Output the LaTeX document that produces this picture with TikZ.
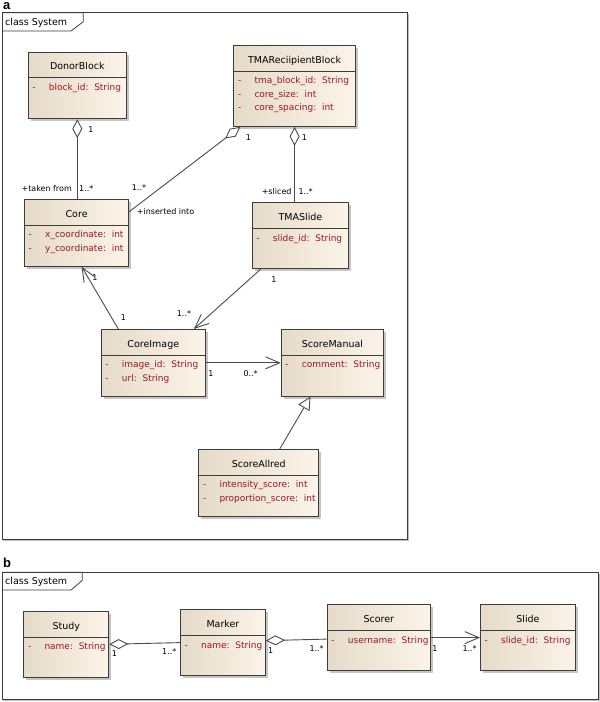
\documentclass[tikz,border=0pt]{standalone}
\usepackage{fontspec}
\newfontfamily\umlfont{DejaVu Sans}
\newfontfamily\panelfont{Liberation Sans}
\usetikzlibrary{calc,positioning,shadows,arrows.meta}

\definecolor{umlline}{RGB}{60,60,60}
\definecolor{connline}{RGB}{75,75,75}
\definecolor{umlleft}{RGB}{230,219,201}
\definecolor{umlright}{RGB}{251,244,232}
\definecolor{umlattr}{RGB}{160,20,35}

\tikzset{
	classbox/.style={draw=umlline, line width=0.9pt, left color=umlleft, right color=umlright,
		drop shadow={shadow xshift=2.5pt, shadow yshift=-2.5pt, fill=black!45}, inner sep=0pt},
	classtitle/.style={font=\umlfont\fontsize{9.5}{11}\selectfont, text height=7pt, text depth=0pt, inner sep=0pt},
	classattr/.style={font=\umlfont\fontsize{9}{10}\selectfont, text=umlattr, anchor=west,
		text height=6.5pt, text depth=0pt, inner sep=0pt},
	mult/.style={font=\umlfont\fontsize{8}{9}\selectfont, text height=5.8pt, text depth=0pt, inner sep=0pt},
	tagtext/.style={font=\umlfont\fontsize{9.5}{11}\selectfont, text height=7pt, text depth=0pt, inner sep=0pt, anchor=west},
	panel/.style={font=\panelfont\bfseries\fontsize{13}{15}\selectfont, inner sep=0pt, anchor=base west},
	sysframe/.style={draw=umlline, line width=0.8pt, fill=white,
		drop shadow={shadow xshift=1.2pt, shadow yshift=-1.2pt, fill=black!50}},
	frametag/.style={draw=umlline, line width=0.8pt},
	conn/.style={draw=connline, line width=0.9pt},
	aggr/.style={conn, {Diamond[length=19pt,width=10pt,fill=white]}-},
	navig/.style={conn, -{Straight Barb[length=14pt,width=12pt]}},
	gener/.style={conn, -{Triangle[length=13pt,width=13pt,fill=white]}},
}

% name, left, top, width, height, title, attributes
\newcommand{\umlclass}[7]{%
	\node[classbox, minimum width=#4pt, minimum height=#5pt, anchor=north west] (#1) at (#2,#3) {};
	\node[classtitle] (#1-title) at ($(#1.north)+(0,14.5)$) {#6};
	\draw[umlline, line width=0.9pt] ($(#1.north west)+(0,26)$) -- ($(#1.north east)+(0,26)$);
	\foreach \attrline [count=\i] in {#7}{
		\node[classattr] (#1-dash\i) at ($(#1.north west)+(4.5,{22.4+13.3*\i})$) {-};
		\node[classattr] (#1-attr\i) at ($(#1.north west)+(21,{22.4+13.3*\i})$) {\attrline};
	}
}

\begin{document}
\begin{tikzpicture}[x=1pt,y=-1pt]
	\useasboundingbox (0,0) rectangle (600,702);

	% panel a
	\node[panel] (label-a) at (3,9.6) {a};
	\draw[sysframe] (2,12.7) rectangle (407.7,539.3);
	\draw[frametag] (2,12.7) -- (83.3,12.7) -- (83.3,21.7) -- (71,31) -- (2,31);
	\node[tagtext] (tag-a) at (5,22) {class System};

	\umlclass{donor}{27.7}{51.7}{98.3}{66.6}{DonorBlock}{block\_id:~~String}
	\umlclass{tmablock}{233.3}{45}{121.7}{81}{TMAReciipientBlock}{tma\_block\_id:~~String, core\_size:~~int, core\_spacing:~~int}
	\umlclass{core}{24}{199}{104.3}{66.7}{Core}{x\_coordinate:~~int, y\_coordinate:~~int}
	\umlclass{tmaslide}{251.7}{202.3}{96.6}{66}{TMASlide}{slide\_id:~~String}
	\umlclass{coreimg}{100.7}{329}{104.3}{66.7}{CoreImage}{image\_id:~~String, url:~~String}
	\umlclass{scoremanual}{280.7}{329}{102.6}{66.7}{ScoreManual}{comment:~~String}
	\umlclass{scoreallred}{198.3}{449}{120}{66.7}{ScoreAllred}{intensity\_score:~~int, proportion\_score:~~int}

	\coordinate (tma-agg) at ($(tmablock.south west)+(7,0)$);
	\coordinate (core-in) at ($(core.north east)+(0,12.7)$);
	\coordinate (slide-out) at ($(tmaslide.south west)+(9,0)$);
	\coordinate (img-in) at ($(coreimg.north east)+(-12,0)$);
	\coordinate (img-out) at ($(coreimg.north west)+(17.6,0)$);
	\coordinate (core-out) at ($(core.south)+(5,0)$);
	\coordinate (allred-out) at ($(scoreallred.north)+(21,0)$);
	\coordinate (manual-in) at ($(scoremanual.south)+(-22,0)$);

	\path
		(donor.south) edge[aggr] (donor.south |- core.north)
		(tma-agg) edge[aggr] (core-in)
		(tmablock.south) edge[aggr] (tmablock.south |- tmaslide.north)
		(slide-out) edge[navig] (img-in)
		(img-out) edge[navig] (core-out)
		(coreimg.east) edge[navig] (scoremanual.west)
		(allred-out) edge[gener] (manual-in);

	\node[mult] (m-donor) at (91,130) {1};
	\node[mult, anchor=east] (r-taken) at (72,188.3) {+taken from};
	\node[mult, anchor=west] (m-taken) at (79,188.3) {1..*};
	\node[mult] (m-tma1) at (248.3,137.3) {1};
	\node[mult, anchor=west] (m-inserted) at (131.7,187.3) {1..*};
	\node[mult, anchor=west] (r-inserted) at (136.7,211.7) {+inserted into};
	\node[mult] (m-tma2) at (304.3,137.3) {1};
	\node[mult, anchor=east] (r-sliced) at (291.7,191.7) {+sliced};
	\node[mult, anchor=west] (m-sliced) at (298.3,191.7) {1..*};
	\node[mult] (m-slide) at (274,279.3) {1};
	\node[mult, anchor=west] (m-img1) at (176.7,313.3) {1..*};
	\node[mult] (m-core) at (95,277.7) {1};
	\node[mult] (m-img2) at (123.3,317.7) {1};
	\node[mult] (m-img3) at (211,373.3) {1};
	\node[mult, anchor=west] (m-manual) at (243.3,373.3) {0..*};

	% panel b
	\node[panel] (label-b) at (3,567) {b};
	\draw[sysframe] (2,572.3) rectangle (598.3,699.5);
	\draw[frametag] (2,572.3) -- (82.3,572.3) -- (82.3,580.3) -- (71,590) -- (2,590);
	\node[tagtext] (tag-b) at (5,581.2) {class System};

	\umlclass{study}{23.3}{611}{85}{65.7}{Study}{name:~~String}
	\umlclass{marker}{180}{609.3}{85}{65.7}{Marker}{name:~~String}
	\umlclass{scorer}{326.7}{604.3}{103.3}{65.7}{Scorer}{username:~~String}
	\umlclass{slide}{480}{604.3}{95}{65.7}{Slide}{slide\_id:~~String}

	\coordinate (marker-out) at ($(marker.east)+(0,-2)$);
	\coordinate (scorer-in) at ($(scorer.west)+(0,1.5)$);

	\path
		(study.east) edge[aggr] (marker.west)
		(marker-out) edge[aggr] (scorer-in)
		(scorer.east) edge[navig] (slide.west);

	\node[mult] (m-study) at (114.3,654) {1};
	\node[mult, anchor=west] (m-marker1) at (162,651.7) {1..*};
	\node[mult] (m-marker2) at (270.7,650.7) {1};
	\node[mult, anchor=west] (m-scorer1) at (309.3,649) {1..*};
	\node[mult] (m-scorer2) at (435,649) {1};
	\node[mult, anchor=west] (m-slide2) at (462.3,649) {1..*};
\end{tikzpicture}
\end{document}
